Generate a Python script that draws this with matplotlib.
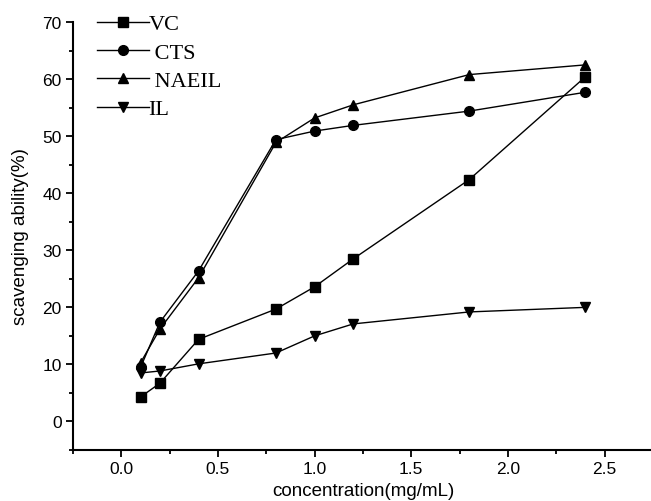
import matplotlib
matplotlib.use("Agg")
import matplotlib.pyplot as plt
from matplotlib.ticker import MultipleLocator

conc = [0.1, 0.2, 0.4, 0.8, 1.0, 1.2, 1.8, 2.4]
vc = [4.3, 6.7, 14.4, 19.7, 23.6, 28.5, 42.4, 60.4]
cts = [9.5, 17.4, 26.4, 49.4, 50.9, 51.9, 54.4, 57.7]
naeil = [10.3, 16.2, 25.2, 48.9, 53.2, 55.5, 60.8, 62.5]
il = [8.5, 8.85, 10.1, 12.0, 15.0, 17.1, 19.2, 20.0]

series = [
    ("VC", vc, "s"),
    (" CTS", cts, "o"),
    (" NAEIL", naeil, "^"),
    ("IL", il, "v"),
]

fig = plt.figure(figsize=(6.51, 5.02), dpi=100)
ax = fig.add_axes([0.112, 0.1016, 0.891, 0.8524])

for name, vals, mk in series:
    ax.plot(conc, vals, color="black", linewidth=1.0, marker=mk,
            markersize=7, label=name, clip_on=False)

ax.set_xlim(-0.25, 2.75)
ax.set_ylim(-5, 70)
ax.xaxis.set_major_locator(MultipleLocator(0.5))
ax.xaxis.set_minor_locator(MultipleLocator(0.25))
ax.yaxis.set_major_locator(MultipleLocator(10))
ax.yaxis.set_minor_locator(MultipleLocator(5))
ax.spines["top"].set_visible(False)
ax.spines["right"].set_visible(False)
ax.spines["left"].set_linewidth(1.5)
ax.spines["bottom"].set_linewidth(1.5)
ax.tick_params(which="major", direction="out", length=5, width=1.3,
               labelsize=12.5, pad=3)
ax.tick_params(which="minor", direction="out", length=3, width=1.3)
for lab in ax.get_xticklabels() + ax.get_yticklabels():
    lab.set_family("Liberation Sans")

ax.set_xlabel("concentration(mg/mL)", fontsize=13.5, family="Liberation Sans",
              labelpad=4)
ax.set_ylabel("scavenging ability(%)", fontsize=13.5, family="Liberation Sans",
              labelpad=10)

leg = ax.legend(loc="upper left", bbox_to_anchor=(0.027, 1.04), frameon=False,
                prop={"family": "Liberation Serif", "size": 16},
                handlelength=2.3, handletextpad=0.0, labelspacing=0.35,
                borderaxespad=0)

fig.savefig("out.png", dpi=100)
